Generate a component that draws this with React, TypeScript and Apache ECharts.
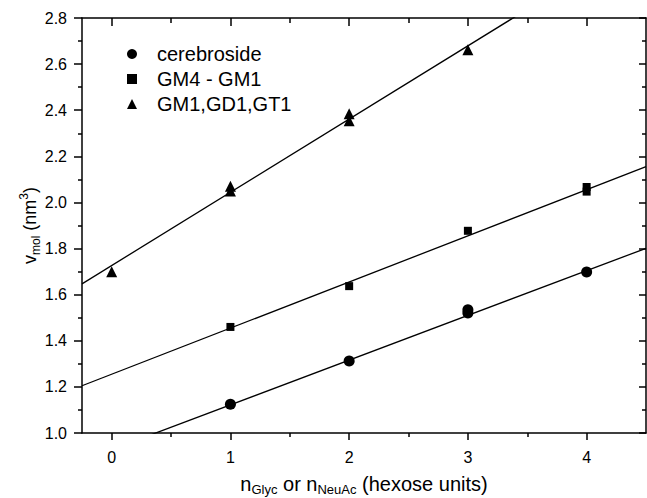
import React, { useEffect, useRef } from "react";
import * as echarts from "echarts";

// ---- data ----
const seriesNames = ["cerebroside", "GM4 - GM1", "GM1,GD1,GT1"];
const cereX = [1, 2, 3, 3, 4];
const cereY = [1.125, 1.312, 1.52, 1.535, 1.698];
const gm4X = [1, 2, 3, 4, 4];
const gm4Y = [1.46, 1.637, 1.877, 2.047, 2.067];
const gm1X = [0, 1, 1, 2, 2, 3];
const gm1Y = [1.699, 2.05, 2.07, 2.354, 2.385, 2.662];

// linear fits (slope, intercept) for cerebroside, GM4-GM1, GM1/GD1/GT1
const fitSlopes = [0.194, 0.2, 0.3176];
const fitIntercepts = [0.928, 1.255, 1.7264];

const xMin = -0.25;
const xMax = 4.5;
const yMin = 1.0;
const yMax = 2.8;
const xMajorTicks = [0, 1, 2, 3, 4];
const xMinorTicks = [0.5, 1.5, 2.5, 3.5];

const FONT = "'Liberation Sans', Arial, Helvetica, sans-serif";

function pairs(xs: number[], ys: number[]) {
  return xs.map((x, i) => [x, ys[i]]);
}

function fitLine(i: number) {
  return [xMin, xMax].map((x) => [x, fitIntercepts[i] + fitSlopes[i] * x]);
}

export default function App() {
  const ref = useRef<HTMLDivElement>(null);

  useEffect(() => {
    if (!ref.current) return;
    const chart = echarts.init(ref.current, undefined, { renderer: "svg" });

    const axisLineStyle = { color: "#000", width: 1.5 };
    const baseX = {
      type: "value" as const,
      min: xMin,
      max: xMax,
      splitLine: { show: false },
    };
    const baseY = {
      type: "value" as const,
      min: yMin,
      max: yMax,
      interval: 0.2,
      splitLine: { show: false },
    };

    const symbols = ["circle", "rect", "triangle"];
    const sizes = [11, 8, 11];
    const datasets = [pairs(cereX, cereY), pairs(gm4X, gm4Y), pairs(gm1X, gm1Y)];

    const mainRich = {
      m: { fontSize: 20, lineHeight: 24, fontFamily: FONT, color: "#000" },
      s: { fontSize: 13, lineHeight: 12, verticalAlign: "bottom", fontFamily: FONT, color: "#000" },
    };
    const yRich = {
      m: { fontSize: 18, lineHeight: 24, fontFamily: FONT, color: "#000" },
      s: { fontSize: 12, lineHeight: 10, verticalAlign: "bottom", fontFamily: FONT, color: "#000" },
      p: { fontSize: 12, lineHeight: 10, verticalAlign: "top", fontFamily: FONT, color: "#000" },
    };

    const option: any = {
      animation: false,
      backgroundColor: "#fff",
      grid: {
        left: 82,
        right: 1,
        top: 18,
        bottom: 65,
        containLabel: false,
        outerBoundsMode: "none",
      },
      legend: {
        orient: "vertical",
        left: 122,
        top: 39,
        itemWidth: 10,
        itemHeight: 10,
        itemGap: 5,
        selectedMode: false,
        data: seriesNames.map((n, i) => ({ name: n, icon: symbols[i] })),
        textStyle: {
          fontSize: 20,
          lineHeight: 19,
          fontFamily: FONT,
          color: "#000",
          padding: [0, 0, 0, 15],
        },
      },
      xAxis: [
        {
          ...baseX,
          position: "bottom",
          axisLine: { show: true, onZero: false, lineStyle: axisLineStyle },
          axisTick: { show: true, inside: false, length: 7, customValues: xMajorTicks, lineStyle: axisLineStyle },
          axisLabel: {
            customValues: xMajorTicks,
            margin: 16,
            fontSize: 16,
            fontFamily: FONT,
            color: "#000",
            formatter: (v: number) => String(v),
          },
          name: "{m|n}{s|Glyc}{m| or n}{s|NeuAc}{m| (hexose units)}",
          nameLocation: "middle",
          nameGap: 39,
          nameMoveOverlap: false,
          nameTextStyle: { rich: mainRich },
        },
        {
          ...baseX,
          position: "bottom",
          axisLine: { show: false, onZero: false },
          axisTick: { show: true, inside: false, length: 4, customValues: xMinorTicks, lineStyle: axisLineStyle },
          axisLabel: { show: false },
        },
        {
          ...baseX,
          position: "top",
          axisLine: { show: true, onZero: false, lineStyle: axisLineStyle },
          axisTick: { show: true, inside: true, length: 8, customValues: xMajorTicks, lineStyle: axisLineStyle },
          axisLabel: { show: false },
        },
        {
          ...baseX,
          position: "top",
          axisLine: { show: false, onZero: false },
          axisTick: { show: true, inside: true, length: 5, customValues: xMinorTicks, lineStyle: axisLineStyle },
          axisLabel: { show: false },
        },
      ],
      yAxis: [
        {
          ...baseY,
          position: "left",
          axisLine: { show: true, onZero: false, lineStyle: axisLineStyle },
          axisTick: { show: true, inside: false, length: 8, lineStyle: axisLineStyle },
          minorTick: { show: true, splitNumber: 2, length: 4, lineStyle: axisLineStyle },
          axisLabel: {
            margin: 15,
            fontSize: 16,
            fontFamily: FONT,
            color: "#000",
            formatter: (v: number) => v.toFixed(1),
          },
          name: "{m|v}{s|mol}{m| (nm}{p|3}{m|)}",
          nameLocation: "middle",
          nameRotate: 90,
          nameGap: 40,
          nameMoveOverlap: false,
          nameTextStyle: { rich: yRich },
        },
        {
          ...baseY,
          position: "right",
          axisLine: { show: true, onZero: false, lineStyle: axisLineStyle },
          axisTick: { show: true, inside: true, length: 7, lineStyle: axisLineStyle },
          minorTick: { show: true, splitNumber: 2, length: 4, lineStyle: axisLineStyle },
          axisLabel: { show: false },
        },
      ],
      series: [
        ...[0, 1, 2].map((i) => ({
          type: "line",
          name: "fit" + i,
          data: fitLine(i),
          xAxisIndex: 0,
          yAxisIndex: 0,
          showSymbol: false,
          symbol: "none",
          clip: true,
          silent: true,
          lineStyle: { color: "#000", width: 1.3 },
          z: 2,
        })),
        ...[0, 1, 2].map((i) => ({
          type: "scatter",
          name: seriesNames[i],
          data: datasets[i],
          xAxisIndex: 0,
          yAxisIndex: 0,
          symbol: symbols[i],
          symbolSize: sizes[i],
          itemStyle: { color: "#000", opacity: 1 },
          z: 3,
        })),
      ],
    };

    chart.setOption(option);
    return () => chart.dispose();
  }, []);

  return (
    <div
      ref={ref}
      style={{ position: "fixed", left: 0, top: 0, width: 647, height: 498 }}
    />
  );
}
